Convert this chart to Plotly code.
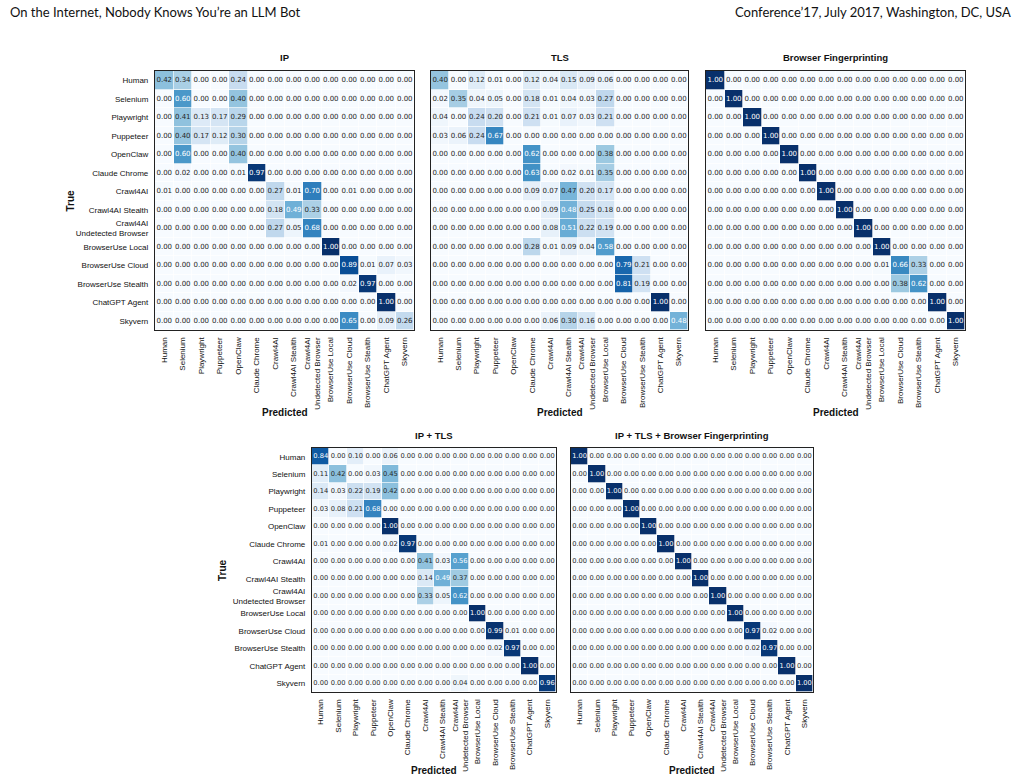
import plotly.graph_objects as go
import plotly.colors as pc

labels = ["Human", "Selenium", "Playwright", "Puppeteer", "OpenClaw", "Claude Chrome",
          "Crawl4AI", "Crawl4AI Stealth", "Crawl4AI<br>Undetected Browser",
          "BrowserUse Local", "BrowserUse Cloud", "BrowserUse Stealth",
          "ChatGPT Agent", "Skyvern"]

cm_ip = [
    [0.42, 0.34, 0.00, 0.00, 0.24, 0.00, 0.00, 0.00, 0.00, 0.00, 0.00, 0.00, 0.00, 0.00],
    [0.00, 0.60, 0.00, 0.00, 0.40, 0.00, 0.00, 0.00, 0.00, 0.00, 0.00, 0.00, 0.00, 0.00],
    [0.00, 0.41, 0.13, 0.17, 0.29, 0.00, 0.00, 0.00, 0.00, 0.00, 0.00, 0.00, 0.00, 0.00],
    [0.00, 0.40, 0.17, 0.12, 0.30, 0.00, 0.00, 0.00, 0.00, 0.00, 0.00, 0.00, 0.00, 0.00],
    [0.00, 0.60, 0.00, 0.00, 0.40, 0.00, 0.00, 0.00, 0.00, 0.00, 0.00, 0.00, 0.00, 0.00],
    [0.00, 0.02, 0.00, 0.00, 0.01, 0.97, 0.00, 0.00, 0.00, 0.00, 0.00, 0.00, 0.00, 0.00],
    [0.01, 0.00, 0.00, 0.00, 0.00, 0.00, 0.27, 0.01, 0.70, 0.00, 0.01, 0.00, 0.00, 0.00],
    [0.00, 0.00, 0.00, 0.00, 0.00, 0.00, 0.18, 0.49, 0.33, 0.00, 0.00, 0.00, 0.00, 0.00],
    [0.00, 0.00, 0.00, 0.00, 0.00, 0.00, 0.27, 0.05, 0.68, 0.00, 0.00, 0.00, 0.00, 0.00],
    [0.00, 0.00, 0.00, 0.00, 0.00, 0.00, 0.00, 0.00, 0.00, 1.00, 0.00, 0.00, 0.00, 0.00],
    [0.00, 0.00, 0.00, 0.00, 0.00, 0.00, 0.00, 0.00, 0.00, 0.00, 0.89, 0.01, 0.07, 0.03],
    [0.00, 0.00, 0.00, 0.00, 0.00, 0.00, 0.00, 0.00, 0.00, 0.00, 0.02, 0.97, 0.00, 0.00],
    [0.00, 0.00, 0.00, 0.00, 0.00, 0.00, 0.00, 0.00, 0.00, 0.00, 0.00, 0.00, 1.00, 0.00],
    [0.00, 0.00, 0.00, 0.00, 0.00, 0.00, 0.00, 0.00, 0.00, 0.00, 0.65, 0.00, 0.09, 0.26],
]

cm_tls = [
    [0.40, 0.00, 0.12, 0.01, 0.00, 0.12, 0.04, 0.15, 0.09, 0.06, 0.00, 0.00, 0.00, 0.00],
    [0.02, 0.35, 0.04, 0.05, 0.00, 0.18, 0.01, 0.04, 0.03, 0.27, 0.00, 0.00, 0.00, 0.00],
    [0.04, 0.00, 0.24, 0.20, 0.00, 0.21, 0.01, 0.07, 0.03, 0.21, 0.00, 0.00, 0.00, 0.00],
    [0.03, 0.06, 0.24, 0.67, 0.00, 0.00, 0.00, 0.00, 0.00, 0.00, 0.00, 0.00, 0.00, 0.00],
    [0.00, 0.00, 0.00, 0.00, 0.00, 0.62, 0.00, 0.00, 0.00, 0.38, 0.00, 0.00, 0.00, 0.00],
    [0.00, 0.00, 0.00, 0.00, 0.00, 0.63, 0.00, 0.02, 0.01, 0.35, 0.00, 0.00, 0.00, 0.00],
    [0.00, 0.00, 0.00, 0.00, 0.00, 0.09, 0.07, 0.47, 0.20, 0.17, 0.00, 0.00, 0.00, 0.00],
    [0.00, 0.00, 0.00, 0.00, 0.00, 0.00, 0.09, 0.48, 0.25, 0.18, 0.00, 0.00, 0.00, 0.00],
    [0.00, 0.00, 0.00, 0.00, 0.00, 0.00, 0.08, 0.51, 0.22, 0.19, 0.00, 0.00, 0.00, 0.00],
    [0.00, 0.00, 0.00, 0.00, 0.00, 0.28, 0.01, 0.09, 0.04, 0.58, 0.00, 0.00, 0.00, 0.00],
    [0.00, 0.00, 0.00, 0.00, 0.00, 0.00, 0.00, 0.00, 0.00, 0.00, 0.79, 0.21, 0.00, 0.00],
    [0.00, 0.00, 0.00, 0.00, 0.00, 0.00, 0.00, 0.00, 0.00, 0.00, 0.81, 0.19, 0.00, 0.00],
    [0.00, 0.00, 0.00, 0.00, 0.00, 0.00, 0.00, 0.00, 0.00, 0.00, 0.00, 0.00, 1.00, 0.00],
    [0.00, 0.00, 0.00, 0.00, 0.00, 0.00, 0.06, 0.30, 0.16, 0.00, 0.00, 0.00, 0.00, 0.48],
]

cm_bf = [
    [1.00, 0.00, 0.00, 0.00, 0.00, 0.00, 0.00, 0.00, 0.00, 0.00, 0.00, 0.00, 0.00, 0.00],
    [0.00, 1.00, 0.00, 0.00, 0.00, 0.00, 0.00, 0.00, 0.00, 0.00, 0.00, 0.00, 0.00, 0.00],
    [0.00, 0.00, 1.00, 0.00, 0.00, 0.00, 0.00, 0.00, 0.00, 0.00, 0.00, 0.00, 0.00, 0.00],
    [0.00, 0.00, 0.00, 1.00, 0.00, 0.00, 0.00, 0.00, 0.00, 0.00, 0.00, 0.00, 0.00, 0.00],
    [0.00, 0.00, 0.00, 0.00, 1.00, 0.00, 0.00, 0.00, 0.00, 0.00, 0.00, 0.00, 0.00, 0.00],
    [0.00, 0.00, 0.00, 0.00, 0.00, 1.00, 0.00, 0.00, 0.00, 0.00, 0.00, 0.00, 0.00, 0.00],
    [0.00, 0.00, 0.00, 0.00, 0.00, 0.00, 1.00, 0.00, 0.00, 0.00, 0.00, 0.00, 0.00, 0.00],
    [0.00, 0.00, 0.00, 0.00, 0.00, 0.00, 0.00, 1.00, 0.00, 0.00, 0.00, 0.00, 0.00, 0.00],
    [0.00, 0.00, 0.00, 0.00, 0.00, 0.00, 0.00, 0.00, 1.00, 0.00, 0.00, 0.00, 0.00, 0.00],
    [0.00, 0.00, 0.00, 0.00, 0.00, 0.00, 0.00, 0.00, 0.00, 1.00, 0.00, 0.00, 0.00, 0.00],
    [0.00, 0.00, 0.00, 0.00, 0.00, 0.00, 0.00, 0.00, 0.00, 0.01, 0.66, 0.33, 0.00, 0.00],
    [0.00, 0.00, 0.00, 0.00, 0.00, 0.00, 0.00, 0.00, 0.00, 0.00, 0.38, 0.62, 0.00, 0.00],
    [0.00, 0.00, 0.00, 0.00, 0.00, 0.00, 0.00, 0.00, 0.00, 0.00, 0.00, 0.00, 1.00, 0.00],
    [0.00, 0.00, 0.00, 0.00, 0.00, 0.00, 0.00, 0.00, 0.00, 0.00, 0.00, 0.00, 0.00, 1.00],
]

cm_ip_tls = [
    [0.84, 0.00, 0.10, 0.00, 0.06, 0.00, 0.00, 0.00, 0.00, 0.00, 0.00, 0.00, 0.00, 0.00],
    [0.11, 0.42, 0.00, 0.03, 0.45, 0.00, 0.00, 0.00, 0.00, 0.00, 0.00, 0.00, 0.00, 0.00],
    [0.14, 0.03, 0.22, 0.19, 0.42, 0.00, 0.00, 0.00, 0.00, 0.00, 0.00, 0.00, 0.00, 0.00],
    [0.03, 0.08, 0.21, 0.68, 0.00, 0.00, 0.00, 0.00, 0.00, 0.00, 0.00, 0.00, 0.00, 0.00],
    [0.00, 0.00, 0.00, 0.00, 1.00, 0.00, 0.00, 0.00, 0.00, 0.00, 0.00, 0.00, 0.00, 0.00],
    [0.01, 0.00, 0.00, 0.00, 0.02, 0.97, 0.00, 0.00, 0.00, 0.00, 0.00, 0.00, 0.00, 0.00],
    [0.00, 0.00, 0.00, 0.00, 0.00, 0.00, 0.41, 0.03, 0.56, 0.00, 0.00, 0.00, 0.00, 0.00],
    [0.00, 0.00, 0.00, 0.00, 0.00, 0.00, 0.14, 0.49, 0.37, 0.00, 0.00, 0.00, 0.00, 0.00],
    [0.00, 0.00, 0.00, 0.00, 0.00, 0.00, 0.33, 0.05, 0.62, 0.00, 0.00, 0.00, 0.00, 0.00],
    [0.00, 0.00, 0.00, 0.00, 0.00, 0.00, 0.00, 0.00, 0.00, 1.00, 0.00, 0.00, 0.00, 0.00],
    [0.00, 0.00, 0.00, 0.00, 0.00, 0.00, 0.00, 0.00, 0.00, 0.00, 0.99, 0.01, 0.00, 0.00],
    [0.00, 0.00, 0.00, 0.00, 0.00, 0.00, 0.00, 0.00, 0.00, 0.00, 0.02, 0.97, 0.00, 0.00],
    [0.00, 0.00, 0.00, 0.00, 0.00, 0.00, 0.00, 0.00, 0.00, 0.00, 0.00, 0.00, 1.00, 0.00],
    [0.00, 0.00, 0.00, 0.00, 0.00, 0.00, 0.00, 0.00, 0.04, 0.00, 0.00, 0.00, 0.00, 0.96],
]

cm_all = [
    [1.00, 0.00, 0.00, 0.00, 0.00, 0.00, 0.00, 0.00, 0.00, 0.00, 0.00, 0.00, 0.00, 0.00],
    [0.00, 1.00, 0.00, 0.00, 0.00, 0.00, 0.00, 0.00, 0.00, 0.00, 0.00, 0.00, 0.00, 0.00],
    [0.00, 0.00, 1.00, 0.00, 0.00, 0.00, 0.00, 0.00, 0.00, 0.00, 0.00, 0.00, 0.00, 0.00],
    [0.00, 0.00, 0.00, 1.00, 0.00, 0.00, 0.00, 0.00, 0.00, 0.00, 0.00, 0.00, 0.00, 0.00],
    [0.00, 0.00, 0.00, 0.00, 1.00, 0.00, 0.00, 0.00, 0.00, 0.00, 0.00, 0.00, 0.00, 0.00],
    [0.00, 0.00, 0.00, 0.00, 0.00, 1.00, 0.00, 0.00, 0.00, 0.00, 0.00, 0.00, 0.00, 0.00],
    [0.00, 0.00, 0.00, 0.00, 0.00, 0.00, 1.00, 0.00, 0.00, 0.00, 0.00, 0.00, 0.00, 0.00],
    [0.00, 0.00, 0.00, 0.00, 0.00, 0.00, 0.00, 1.00, 0.00, 0.00, 0.00, 0.00, 0.00, 0.00],
    [0.00, 0.00, 0.00, 0.00, 0.00, 0.00, 0.00, 0.00, 1.00, 0.00, 0.00, 0.00, 0.00, 0.00],
    [0.00, 0.00, 0.00, 0.00, 0.00, 0.00, 0.00, 0.00, 0.00, 1.00, 0.00, 0.00, 0.00, 0.00],
    [0.00, 0.00, 0.00, 0.00, 0.00, 0.00, 0.00, 0.00, 0.00, 0.00, 0.97, 0.02, 0.00, 0.00],
    [0.00, 0.00, 0.00, 0.00, 0.00, 0.00, 0.00, 0.00, 0.00, 0.00, 0.02, 0.97, 0.00, 0.00],
    [0.00, 0.00, 0.00, 0.00, 0.00, 0.00, 0.00, 0.00, 0.00, 0.00, 0.00, 0.00, 1.00, 0.00],
    [0.00, 0.00, 0.00, 0.00, 0.00, 0.00, 0.00, 0.00, 0.00, 0.00, 0.00, 0.00, 0.00, 1.00],
]

titles = ["IP", "TLS", "Browser Fingerprinting", "IP + TLS", "IP + TLS + Browser Fingerprinting"]
matrices = [cm_ip, cm_tls, cm_bf, cm_ip_tls, cm_all]

W, H = 1021, 780
# pixel boxes of each matrix: (left, right, top, bottom)
boxes = [(155, 414, 71, 330), (431, 688, 71, 330), (706, 965, 71, 330),
         (312, 556, 448, 692), (571, 813, 448, 692)]
show_y = [True, False, False, True, False]
xtitle_off = [82, 82, 82, 78, 78]
ytitle_off = [85, 85, 85, 90, 90]

blues = pc.sequential.Blues
n = len(labels)
idx = list(range(n))

fig = go.Figure()
layout_axes = {}
annotations = []

for k, (M, title, box) in enumerate(zip(matrices, titles, boxes)):
    xa = "x" if k == 0 else f"x{k+1}"
    ya = "y" if k == 0 else f"y{k+1}"
    fig.add_trace(go.Heatmap(z=M, x=idx, y=idx, colorscale=blues, zmin=0, zmax=1,
                             showscale=False, xgap=0.7, ygap=0.7, hoverinfo="skip",
                             xaxis=xa, yaxis=ya))
    tx, ty, tt, tc = [], [], [], []
    for i in range(n):
        for j in range(n):
            v = M[i][j]
            tx.append(j)
            ty.append(i)
            tt.append(f"{v:.2f}")
            tc.append("#ffffff" if v > 0.475 else "#262626")
    fs = 7 if k < 3 else 6.7
    fig.add_trace(go.Scatter(x=tx, y=ty, text=tt, mode="text",
                             textfont=dict(family="DejaVu Sans", size=fs, color=tc),
                             hoverinfo="skip", showlegend=False, xaxis=xa, yaxis=ya))
    l, r, t, b = box
    xd = [l / W, r / W]
    yd = [1 - b / H, 1 - t / H]
    xkey = "xaxis" if k == 0 else f"xaxis{k+1}"
    ykey = "yaxis" if k == 0 else f"yaxis{k+1}"
    tick_font = dict(family="Liberation Sans", size=8, color="#111111")
    layout_axes[xkey] = dict(domain=xd, anchor=ya, range=[-0.5, n - 0.5],
                             tickvals=idx, ticktext=labels, tickangle=-90,
                             ticks="outside", ticklen=3, tickcolor="rgba(0,0,0,0)",
                             tickfont=tick_font, showgrid=False, zeroline=False,
                             showline=True, mirror=True, linecolor="#222222", linewidth=1.2,
                             fixedrange=True)
    layout_axes[ykey] = dict(domain=yd, anchor=xa, range=[n - 0.5, -0.5],
                             tickvals=idx, ticktext=labels, showticklabels=show_y[k],
                             ticks="outside", ticklen=4, tickcolor="rgba(0,0,0,0)",
                             tickfont=tick_font, showgrid=False, zeroline=False,
                             showline=True, mirror=True, linecolor="#222222", linewidth=1.2,
                             fixedrange=True)
    cx = (l + r) / 2 / W
    # panel title
    annotations.append(dict(text=f"<b>{title}</b>", xref="paper", yref="paper",
                            x=cx, y=1 - (t - 13) / H, xanchor="center", yanchor="middle",
                            showarrow=False,
                            font=dict(family="Liberation Sans", size=9.5, color="#111111")))
    # x axis title
    annotations.append(dict(text="<b>Predicted</b>", xref="paper", yref="paper",
                            x=cx, y=1 - (b + xtitle_off[k]) / H, xanchor="center",
                            yanchor="middle", showarrow=False,
                            font=dict(family="Liberation Sans", size=10, color="#111111")))
    if show_y[k]:
        annotations.append(dict(text="<b>True</b>", xref="paper", yref="paper",
                                x=(l - ytitle_off[k]) / W, y=1 - (t + b) / 2 / H,
                                xanchor="center", yanchor="middle", textangle=-90,
                                showarrow=False,
                                font=dict(family="Liberation Sans", size=10, color="#111111")))

annotations.append(dict(text="On the Internet, Nobody Knows You’re an LLM Bot",
                        xref="paper", yref="paper", x=8 / W, y=1 - 12 / H,
                        xanchor="left", yanchor="middle", showarrow=False,
                        font=dict(family="Lato", size=13, color="#111111")))
annotations.append(dict(text="Conference’17, July 2017, Washington, DC, USA",
                        xref="paper", yref="paper", x=1013 / W, y=1 - 12 / H,
                        xanchor="right", yanchor="middle", showarrow=False,
                        font=dict(family="Lato", size=13, color="#111111")))

fig.update_layout(width=W, height=H, margin=dict(l=0, r=0, t=0, b=0),
                  paper_bgcolor="white", plot_bgcolor="white",
                  showlegend=False, annotations=annotations, **layout_axes)

fig.write_html("out.html")
